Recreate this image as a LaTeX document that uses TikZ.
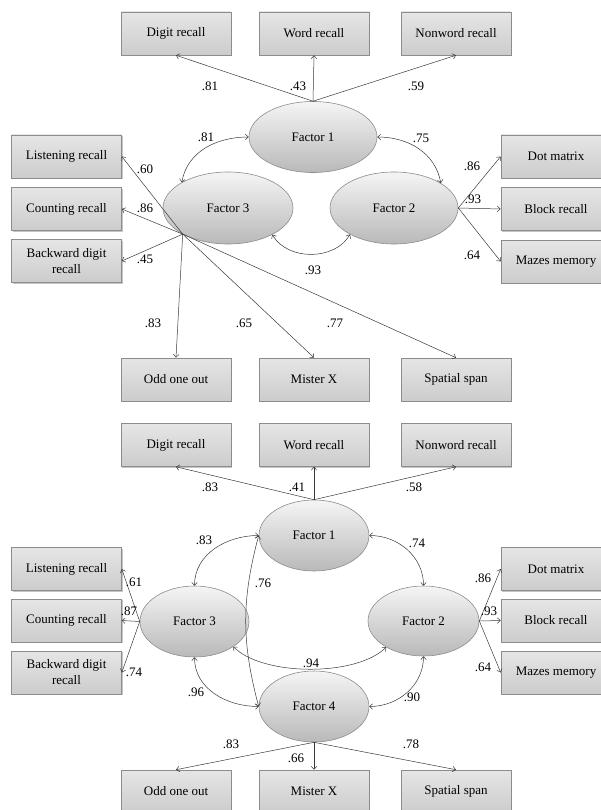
\documentclass[tikz,border=0pt]{standalone}
\usepackage{fontspec}
\setmainfont{Liberation Serif}
\usetikzlibrary{arrows.meta,shapes.geometric,shadows}
\begin{document}
\begin{tikzpicture}[x=1pt,y=1pt,
  font=\fontsize{13}{16}\selectfont,
  box/.style={rectangle, draw=gray!90, line width=0.6pt, top color=gray!20, bottom color=gray!40,
    minimum width=110pt, minimum height=43pt, inner sep=0pt, align=center,
    drop shadow={shadow xshift=1pt, shadow yshift=-1.2pt, fill=gray, opacity=0.45}},
  fac/.style={ellipse, draw=gray!90, line width=0.6pt, top color=gray!8, bottom color=gray!55, inner sep=0pt},
  tipb/.tip={Straight Barb[length=3pt,width=5.5pt]},
  ld/.style={draw=gray!45!black, line width=0.5pt, -tipb},
  cv/.style={draw=gray!45!black, line width=0.5pt, tipb-tipb},
  lab/.style={inner sep=0pt}]
\useasboundingbox (0,0) rectangle (600,-810);

% ================= top diagram =================
\node[box] (d1) at (176,-33.5) {Digit recall};
\node[box] (w1) at (314,-33.5) {Word recall};
\node[box] (n1) at (456,-33.5) {Nonword recall};
\node[box] (L1) at (66.5,-156.5) {Listening recall};
\node[box] (C1) at (66.5,-209) {Counting recall};
\node[box] (B1) at (66.5,-261) {Backward digit\\recall};
\node[box] (D1) at (556,-156.5) {Dot matrix};
\node[box] (K1) at (556,-209) {Block recall};
\node[box] (Z1) at (556,-261.5) {Mazes memory};
\node[box] (O1) at (176,-379.5) {Odd one out};
\node[box] (M1) at (314,-379.5) {Mister X};
\node[box] (S1) at (456,-379.5) {Spatial span};

\node[fac, minimum width=128pt, minimum height=71pt] (F1a) at (313,-137) {Factor 1};
\node[fac, minimum width=130pt, minimum height=72pt] (F3a) at (228,-208) {Factor 3};
\node[fac, minimum width=128pt, minimum height=72pt] (F2a) at (394,-208) {Factor 2};

\draw[ld] (F1a.north) -- (d1.south);
\draw[ld] (F1a.north) -- (w1.south);
\draw[ld] (F1a.north) -- (n1.south);

\coordinate (f3p) at (F3a.210);
\draw[ld] (f3p) -- (L1.east);
\draw[ld] (f3p) -- (C1.east);
\draw[ld] (f3p) -- (B1.east);
\draw[ld] (f3p) -- (O1.north);
\draw[ld] (f3p) -- (M1.north);
\draw[ld] (f3p) -- (S1.north);

\draw[ld] (F2a.east) -- (D1.west);
\draw[ld] (F2a.east) -- (K1.west);
\draw[ld] (F2a.east) -- (Z1.west);

\draw[cv] (F1a.west) to[out=180,in=80] (F3a.151);
\draw[cv] (F1a.east) to[out=0,in=100] (F2a.28);
\draw[cv] (F3a.-31) to[out=-60,in=-120] (F2a.211);

\node[lab] (a1) at (210,-86) {.81};
\node[lab] (a2) at (298,-86) {.43};
\node[lab] (a3) at (416,-86) {.59};
\node[lab] (a4) at (206,-137) {.81};
\node[lab] (a5) at (421,-138) {.75};
\node[lab] (a6) at (145,-169) {.60};
\node[lab] (a7) at (145,-208) {.86};
\node[lab] (a8) at (145,-259) {.45};
\node[lab] (a9) at (313,-270) {.93};
\node[lab] (a10) at (472,-166) {.86};
\node[lab] (a11) at (473,-199) {.93};
\node[lab] (a12) at (472,-255) {.64};
\node[lab] (a13) at (153,-323) {.83};
\node[lab] (a14) at (244,-323) {.65};
\node[lab] (a15) at (335,-323) {.77};

% ================= bottom diagram =================
\node[box] (d2) at (176,-445) {Digit recall};
\node[box] (w2) at (314,-445) {Word recall};
\node[box] (n2) at (456,-445) {Nonword recall};
\node[box] (L2) at (66.5,-569) {Listening recall};
\node[box] (C2) at (66.5,-620.5) {Counting recall};
\node[box] (B2) at (66.5,-672.5) {Backward digit\\recall};
\node[box] (D2) at (556,-569) {Dot matrix};
\node[box] (K2) at (556,-620.5) {Block recall};
\node[box] (Z2) at (556,-672.5) {Mazes memory};
\node[box] (O2) at (176,-791.5) {Odd one out};
\node[box] (M2) at (314,-791.5) {Mister X};
\node[box] (S2) at (456,-791.5) {Spatial span};

\node[fac, minimum width=110pt, minimum height=71pt] (F1b) at (314,-535.5) {Factor 1};
\node[fac, minimum width=109pt, minimum height=71pt] (F3b) at (194.5,-621.5) {Factor 3};
\node[fac, minimum width=111pt, minimum height=70pt] (F2b) at (423.5,-621) {Factor 2};
\node[fac, minimum width=110pt, minimum height=71pt] (F4b) at (314,-706.5) {Factor 4};

\draw[ld] (F1b.north) -- (d2.south);
\draw[ld] (F1b.north) -- (w2.south);
\draw[ld] (F1b.north) -- (n2.south);

\draw[ld] (F3b.west) -- (L2.east);
\draw[ld] (F3b.west) -- (C2.east);
\draw[ld] (F3b.west) -- (B2.east);

\draw[ld] (F2b.east) -- (D2.west);
\draw[ld] (F2b.east) -- (K2.west);
\draw[ld] (F2b.east) -- (Z2.west);

\draw[ld] (F4b.south) -- (O2.north);
\draw[ld] (F4b.south) -- (M2.north);
\draw[ld] (F4b.south) -- (S2.north);

\draw[cv] (F1b.west) to[out=180,in=90] (F3b.north);
\draw[cv] (F1b.east) to[out=0,in=90] (F2b.north);
\draw[cv] (F1b.west) to[out=-105,in=105] (F4b.west);
\draw[cv] (F3b.-33) to[out=-45,in=-135,looseness=0.7] (F2b.215);
\draw[cv] (F3b.south) to[out=-90,in=180] (F4b.west);
\draw[cv] (F2b.south) to[out=-90,in=0] (F4b.east);

\node[lab] (b1) at (210,-487) {.83};
\node[lab] (b2) at (297,-487) {.41};
\node[lab] (b3) at (414,-487) {.58};
\node[lab] (b4) at (204,-540) {.83};
\node[lab] (b5) at (417,-543) {.74};
\node[lab] (b6) at (263,-583) {.76};
\node[lab] (b7) at (134,-582) {.61};
\node[lab] (b8) at (129,-611) {.87};
\node[lab] (b9) at (134,-672) {.74};
\node[lab] (b10) at (483,-578) {.86};
\node[lab] (b11) at (489,-611) {.93};
\node[lab] (b12) at (483,-667) {.64};
\node[lab] (b13) at (311,-663) {.94};
\node[lab] (b14) at (196,-692) {.96};
\node[lab] (b15) at (412,-697) {.90};
\node[lab] (b16) at (231,-744) {.83};
\node[lab] (b17) at (296,-758) {.66};
\node[lab] (b18) at (411,-744) {.78};
\end{tikzpicture}
\end{document}
